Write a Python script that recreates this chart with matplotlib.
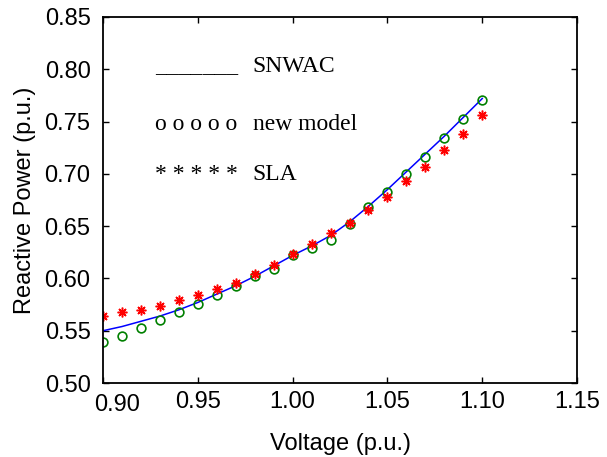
import matplotlib
matplotlib.use('Agg')
import matplotlib.pyplot as plt
from matplotlib.transforms import ScaledTranslation

# Data
voltage = [0.90, 0.91, 0.92, 0.93, 0.94, 0.95, 0.96, 0.97, 0.98, 0.99, 1.00,
           1.01, 1.02, 1.03, 1.04, 1.05, 1.06, 1.07, 1.08, 1.09, 1.10]
snwac = [0.550, 0.554, 0.559, 0.564, 0.570, 0.577, 0.585, 0.593, 0.602, 0.612, 0.622,
         0.631, 0.641, 0.654, 0.669, 0.685, 0.702, 0.719, 0.736, 0.754, 0.772]
new_model = [0.539, 0.545, 0.553, 0.560, 0.568, 0.576, 0.584, 0.593, 0.602, 0.609, 0.622,
             0.629, 0.637, 0.652, 0.668, 0.683, 0.700, 0.716, 0.734, 0.752, 0.771]
sla = [0.564, 0.568, 0.570, 0.574, 0.579, 0.584, 0.590, 0.596, 0.604, 0.613, 0.623,
       0.633, 0.643, 0.653, 0.665, 0.678, 0.693, 0.707, 0.723, 0.738, 0.756]

xticks = [0.90, 0.95, 1.00, 1.05, 1.10, 1.15]
yticks = [0.50, 0.55, 0.60, 0.65, 0.70, 0.75, 0.80, 0.85]

plt.rcParams['font.family'] = ['Liberation Sans', 'DejaVu Sans']

fig = plt.figure(figsize=(6.07, 4.57), dpi=100)
ax = fig.add_axes([0.1697, 0.1619, 0.781, 0.801])

ax.plot(voltage, snwac, color='#0000ff', linewidth=1.1)
ax.plot(voltage, new_model, linestyle='none', marker='o', markersize=6.3,
        markerfacecolor='none', markeredgecolor='#008000', markeredgewidth=1.2)
ax.plot(voltage, sla, linestyle='none', marker=(8, 2, 0), markersize=7,
        color='#ff0000', markeredgewidth=1.1)

ax.set_xlim(0.90, 1.15)
ax.set_ylim(0.50, 0.85)
ax.set_xticks(xticks)
ax.set_yticks(yticks)
ax.set_xticklabels(['%.2f' % v for v in xticks])
ax.set_yticklabels(['%.2f' % v for v in yticks])
ax.tick_params(direction='in', top=True, right=True, length=4, width=1,
               labelsize=17)
ax.tick_params(axis='x', pad=6)
ax.tick_params(axis='y', pad=9)
for s in ax.spines.values():
    s.set_linewidth(1.3)

# first x label sits a bit right, like the original
lab0 = ax.get_xticklabels()[0]
lab0.set_transform(lab0.get_transform() + ScaledTranslation(10 / 72, -2 / 72, fig.dpi_scale_trans))

ax.set_xlabel('Voltage (p.u.)', fontsize=17, labelpad=12)
ax.set_ylabel('Reactive Power (p.u.)', fontsize=17, labelpad=6)

# hand-made legend in Times
serif = dict(family='Liberation Serif', fontsize=17, va='baseline')
ax.text(0.9274, 0.797, '_______', **serif)
ax.text(0.979, 0.797, 'SNWAC', **serif)
ax.text(0.9274, 0.742, 'o o o o o', **serif)
ax.text(0.979, 0.742, 'new model', **serif)
ax.text(0.9274, 0.694, '* * * * *', **serif)
ax.text(0.979, 0.694, 'SLA', **serif)

fig.savefig('out.png', dpi=100)
